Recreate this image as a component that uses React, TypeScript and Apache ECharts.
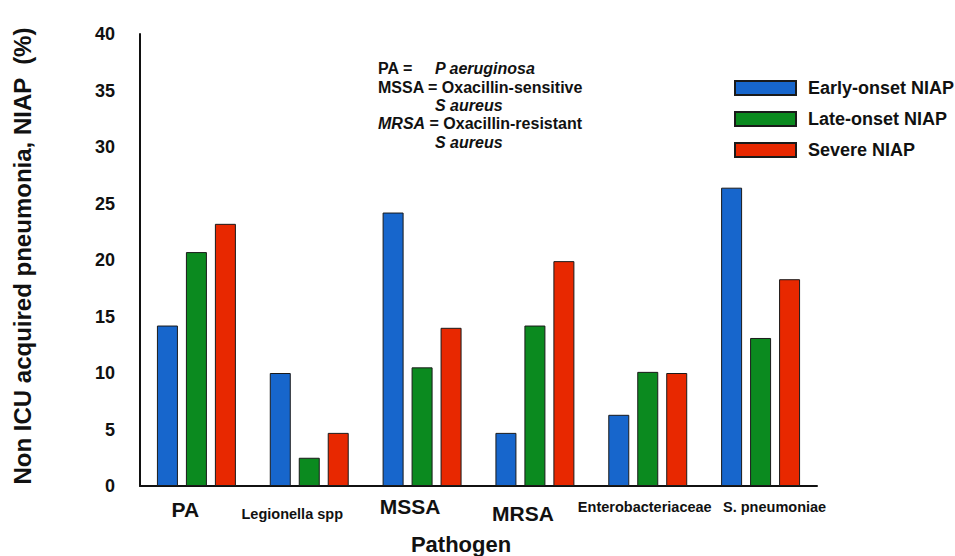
import React, { useEffect, useRef } from "react";
import * as echarts from "echarts";

const categories = ["PA", "Legionella spp", "MSSA", "MRSA", "Enterobacteriaceae", "S. pneumoniae"];
const seriesNames = ["Early-onset NIAP", "Late-onset NIAP", "Severe NIAP"];
const earlyOnset = [14.2, 10.0, 24.2, 4.7, 6.3, 26.4];
const lateOnset = [20.7, 2.5, 10.5, 14.2, 10.1, 13.1];
const severe = [23.2, 4.7, 14.0, 19.9, 10.0, 18.3];
const yTicks = { min: 0, max: 40, interval: 5 };
const yTitle = "Non ICU acquired pneumonia, NIAP  (%)";
const xTitle = "Pathogen";

const FONT = "'Liberation Sans', Arial, Helvetica, sans-serif";
const colors = ["#1766cc", "#0b8a1f", "#e82800"];

export default function App() {
  const ref = useRef<HTMLDivElement>(null);
  useEffect(() => {
    document.body.style.margin = "0";
    if (!ref.current) return;
    const chart = echarts.init(ref.current, null, { renderer: "svg" });
    const valueSets = [earlyOnset, lateOnset, severe];
    const lbl = (fontSize: number, padding: number[]) => ({
      fontSize,
      fontWeight: "bold",
      fontFamily: FONT,
      color: "#111",
      padding,
    });
    const styleKey: Record<string, string> = {
      PA: "pa",
      "Legionella spp": "leg",
      MSSA: "mssa",
      MRSA: "mrsa",
      Enterobacteriaceae: "ent",
      "S. pneumoniae": "spn",
    };
    const ann = (text: string, x: number, y: number, italic = false) => ({
      type: "text",
      x,
      y,
      style: {
        text,
        fontFamily: FONT,
        fontSize: 16,
        fontWeight: "bold",
        fontStyle: italic ? "italic" : "normal",
        fill: "#111",
        textVerticalAlign: "middle",
      },
    });
    const option: any = {
      animation: false,
      backgroundColor: "#ffffff",
      textStyle: { fontFamily: FONT },
      grid: { left: 140, right: 138, top: 34, bottom: 70, containLabel: false },
      legend: {
        data: seriesNames,
        orient: "vertical",
        left: 729,
        top: 74,
        itemWidth: 61,
        itemHeight: 14,
        itemGap: 13,
        icon: "rect",
        textStyle: {
          fontFamily: FONT,
          fontSize: 18,
          fontWeight: "bold",
          color: "#111",
          padding: [0, 0, 0, 7],
        },
      },
      xAxis: {
        type: "category",
        data: categories,
        axisLine: { show: true, lineStyle: { color: "#111", width: 2 } },
        axisTick: { show: false },
        axisLabel: {
          interval: 0,
          margin: 10,
          color: "#111",
          fontFamily: FONT,
          fontWeight: "bold",
          formatter: (v: string) => "{" + (styleKey[v] || "ent") + "|" + v + "}",
          rich: {
            pa: lbl(21, [3, 22, 0, 0]),
            mssa: lbl(21, [0, 24, 0, 0]),
            mrsa: lbl(21, [7, 24, 0, 0]),
            leg: lbl(14.5, [10, 34, 0, 0]),
            ent: lbl(14.5, [3, 6, 0, 0]),
            spn: lbl(14.5, [3, 0, 0, 28]),
          },
        },
        splitLine: { show: false },
      },
      yAxis: {
        type: "value",
        min: yTicks.min,
        max: yTicks.max,
        interval: yTicks.interval,
        axisLine: { show: true, lineStyle: { color: "#111", width: 2 } },
        axisTick: { show: false },
        splitLine: { show: false },
        axisLabel: {
          margin: 25,
          color: "#111",
          fontSize: 18,
          fontWeight: "bold",
          fontFamily: FONT,
        },
      },
      series: seriesNames.map((name, i) => ({
        name,
        type: "bar",
        data: valueSets[i],
        barWidth: 21,
        barGap: "38%",
        itemStyle: { color: colors[i], borderColor: "#1a1a1a", borderWidth: 1 },
      })),
      graphic: [
        {
          type: "text",
          x: 22,
          y: 256,
          rotation: Math.PI / 2,
          style: {
            text: yTitle,
            fontFamily: FONT,
            fontSize: 24,
            fontWeight: "bold",
            fill: "#111",
            textAlign: "center",
            textVerticalAlign: "middle",
          },
        },
        {
          type: "text",
          x: 461,
          y: 544,
          style: {
            text: xTitle,
            fontFamily: FONT,
            fontSize: 22,
            fontWeight: "bold",
            fill: "#111",
            textAlign: "center",
            textVerticalAlign: "middle",
          },
        },
        {
          type: "group",
          children: [
            ann("PA =", 378, 68),
            ann("P aeruginosa", 435, 68, true),
            ann("MSSA = Oxacillin-sensitive", 378, 87),
            ann("S aureus", 435, 105, true),
            {
              type: "text",
              x: 378,
              y: 123,
              style: {
                text: "{i|MRSA} = Oxacillin-resistant",
                fontFamily: FONT,
                fontSize: 16,
                fontWeight: "bold",
                fill: "#111",
                textVerticalAlign: "middle",
                rich: { i: { fontFamily: FONT, fontSize: 16, fontWeight: "bold", fontStyle: "italic", fill: "#111" } },
              },
            },
            ann("S aureus", 435, 142, true),
          ],
        },
      ],
    };
    chart.setOption(option);
    return () => chart.dispose();
  }, []);
  return <div ref={ref} style={{ width: 955, height: 556 }} />;
}
